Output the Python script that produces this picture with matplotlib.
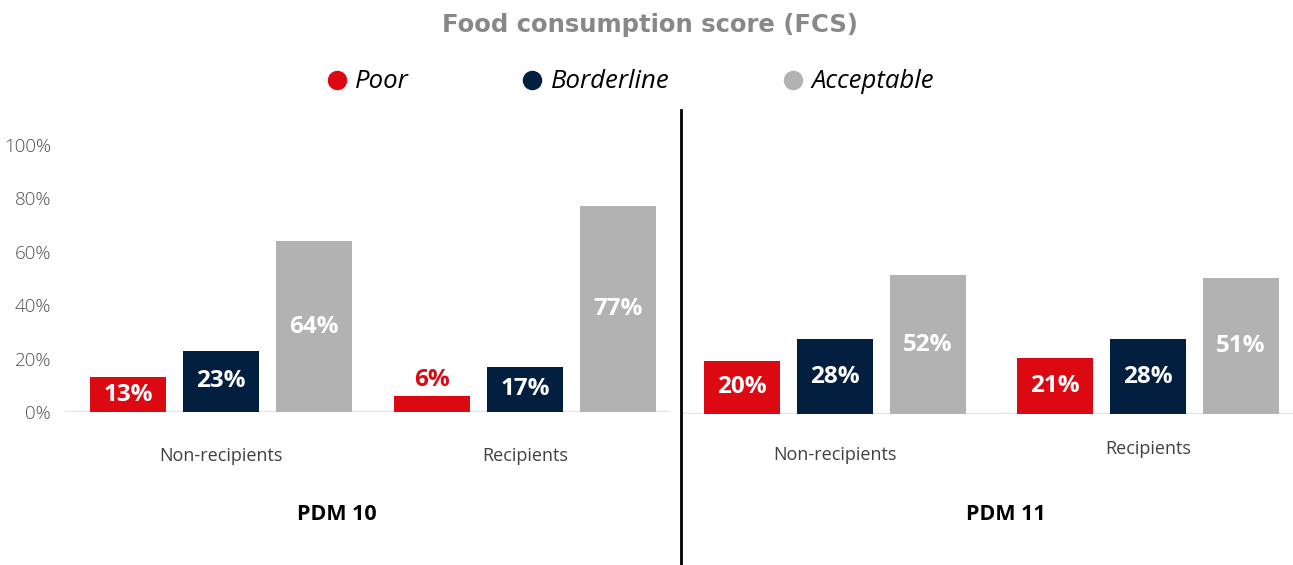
import matplotlib.pyplot as plt
from matplotlib.lines import Line2D

plt.rcParams['font.family'] = ['Open Sans', 'DejaVu Sans']

# data
title = "Food consumption score (FCS)"
categories = ["Poor", "Borderline", "Acceptable"]
groups = ["Non-recipients", "Recipients"]
rounds = ["PDM 10", "PDM 11"]
pdm10 = {"Poor": [13, 6], "Borderline": [23, 17], "Acceptable": [64, 77]}
pdm11 = {"Poor": [20, 21], "Borderline": [28, 28], "Acceptable": [52, 51]}
yticks = [0, 20, 40, 60, 80, 100]

colors = {"Poor": "#DC0812", "Borderline": "#021F40", "Acceptable": "#B2B2B2"}

W, H = 1293, 565
fig = plt.figure(figsize=(W / 100, H / 100), dpi=100)


def px_axes(x0, x1, y0, y100):
    # axes from pixel coords (top-origin), y0 = pixel of 0%, y100 = pixel of 100%
    return fig.add_axes([x0 / W, (H - y0) / H, (x1 - x0) / W, (y0 - y100) / H])


def draw_panel(ax, data, width, step, xlim, show_y, pad):
    for i, cat in enumerate(categories):
        xs = [g + (i - 1) * step for g in range(len(groups))]
        vals = data[cat]
        bars = ax.bar(xs, vals, width=width, color=colors[cat], zorder=3)
        for b, v in zip(bars, vals):
            cx = b.get_x() + b.get_width() / 2
            if v < 10:
                ax.text(cx, v + 1.5, f"{v}%", ha='center', va='bottom',
                        color=colors[cat], fontsize=17.5, fontweight='bold')
            else:
                ax.text(cx, v / 2, f"{v}%", ha='center', va='center',
                        color='white', fontsize=17.5, fontweight='bold', zorder=4)
    ax.axhline(0, color='#E6E6E6', lw=2.5, zorder=2)
    ax.set_ylim(0, 100)
    ax.set_xlim(*xlim)
    ax.set_xticks(range(len(groups)))
    ax.set_xticklabels(groups, fontsize=13, color='#404040')
    ax.tick_params(axis='x', length=0, pad=pad)
    if show_y:
        ax.set_yticks(yticks)
        ax.set_yticklabels([f"{t}%" for t in yticks], fontsize=13.5,
                           color='#505050', fontweight='light')
        ax.tick_params(axis='y', length=0, pad=10)
    else:
        ax.set_yticks([])
    for s in ax.spines.values():
        s.set_visible(False)
    ax.patch.set_alpha(0)


ax1 = px_axes(65, 670, 412, 145)
draw_panel(ax1, pdm10, 0.25, 0.306, (-0.513, 1.477), True, 25)

ax2 = px_axes(683, 1293, 414, 147)
draw_panel(ax2, pdm11, 0.243, 0.297, (-0.486, 1.463), False, 23)
ax2.xaxis.get_major_ticks()[1].set_pad(19)

# round labels
fig.text(337 / W, 1 - 515 / H, rounds[0], ha='center', va='center',
         fontsize=15.5, fontweight='bold', color='black')
fig.text(1006 / W, 1 - 515 / H, rounds[1], ha='center', va='center',
         fontsize=15.5, fontweight='bold', color='black')

# divider
fig.add_artist(Line2D([681 / W, 681 / W], [0, 1 - 110 / H],
                      color='black', lw=2, transform=fig.transFigure))

fig.text(650 / W, 1 - 25 / H, title, ha='center', va='center',
         fontsize=17.5, fontweight='bold', color='#888888',
         family=['DejaVu Sans'])

handles = [Line2D([], [], marker='o', ls='', color=colors[c], markersize=13)
           for c in categories]
fig.legend(handles, categories, loc='center', bbox_to_anchor=(629 / W, 1 - 82 / H),
           ncol=3, frameon=False, handlelength=1.0, handletextpad=0.22,
           columnspacing=4.3, prop={'style': 'italic', 'size': 18.5})

fig.savefig("out.png", dpi=100)
